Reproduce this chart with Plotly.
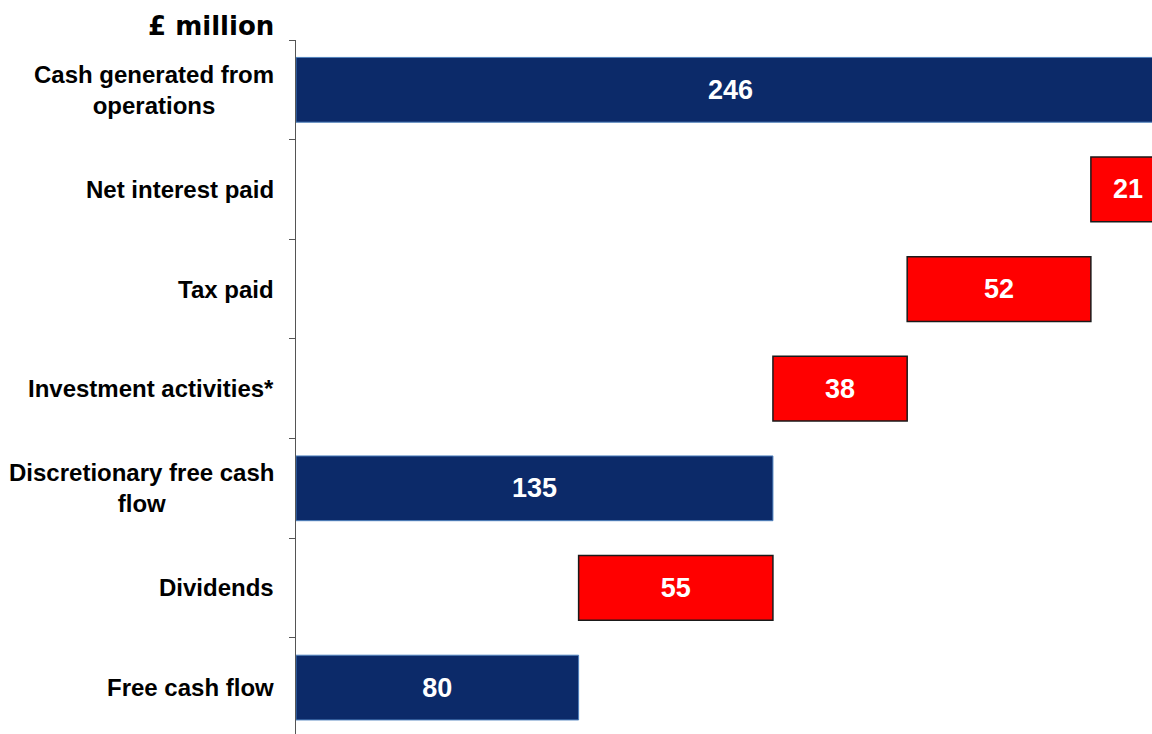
import plotly.graph_objects as go

# Cash flow bridge, £ million
categories = [
    "Cash generated from<br>operations",
    "Net interest paid",
    "Tax paid",
    "Investment activities*",
    "Discretionary free cash<br>flow",
    "Dividends",
    "Free cash flow",
]
values = [246, -21, -52, -38, 135, -55, 80]
measures = ["absolute", "relative", "relative", "relative", "total", "relative", "total"]
value_labels = [str(abs(v)) for v in values]

NAVY = "#0c2a69"
RED = "#ff0000"
LABEL_FONT = "Liberation Sans, Arial, sans-serif"

fig = go.Figure(
    go.Waterfall(
        orientation="h",
        y=categories,
        x=values,
        measure=measures,
        text=value_labels,
        textposition="inside",
        insidetextanchor="middle",
        constraintext="none",
        insidetextfont=dict(family=LABEL_FONT, size=27, color="white", weight="bold"),
        totals=dict(marker=dict(color=NAVY, line=dict(color="#4f81bd", width=1))),
        decreasing=dict(marker=dict(color=RED, line=dict(color="#1a1a1a", width=1.5))),
        increasing=dict(marker=dict(color=NAVY, line=dict(color="#4f81bd", width=1))),
        connector=dict(visible=False),
        hoverinfo="skip",
    )
)

# category labels, centred line by line, right edge just left of the axis
for cat in categories:
    fig.add_annotation(
        x=0, xref="paper", xanchor="right", xshift=-20,
        y=cat, yref="y", yanchor="middle",
        text=cat, showarrow=False, align="center",
        font=dict(family=LABEL_FONT, size=24, color="black", weight="bold"),
    )

fig.add_annotation(
    x=0, xref="paper", xanchor="right", xshift=-20,
    y=1, yref="paper", yanchor="bottom", yshift=-3,
    text="£ million", showarrow=False,
    font=dict(family="DejaVu Sans, sans-serif", size=26, color="black", weight="bold"),
)

fig.update_layout(
    width=1152,
    height=734,
    margin=dict(l=296, r=0, t=40, b=0),
    paper_bgcolor="white",
    plot_bgcolor="white",
    waterfallgap=0.35,
    showlegend=False,
    xaxis=dict(
        range=[0, 242.3],
        visible=False,
        showgrid=False,
        zeroline=False,
    ),
    yaxis=dict(
        type="category",
        categoryorder="array",
        categoryarray=categories,
        range=[6.466, -0.5],
        showticklabels=False,
        showgrid=False,
        zeroline=False,
        showline=True,
        linecolor="#555555",
        linewidth=1,
        ticks="outside",
        tickson="boundaries",
        ticklen=6,
        tickcolor="#555555",
        tickwidth=1,
    ),
)

fig.write_html("out.html")
